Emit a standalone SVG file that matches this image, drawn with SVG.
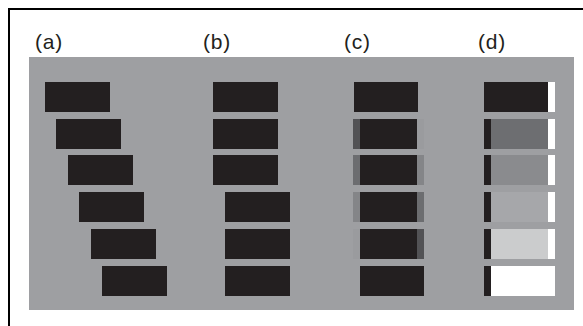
<svg xmlns="http://www.w3.org/2000/svg" width="583" height="326" viewBox="0 0 583 326">
<style>
.lbl{font-family:"Liberation Sans",Arial,sans-serif;font-size:21px;letter-spacing:0.8px;fill:#231f20}
.k{fill:#231f20}
.w{fill:#ffffff}
</style>
<rect x="0" y="0" width="583" height="326" fill="#ffffff"/>
<path d="M9,340 V9 H600" fill="none" stroke="#000000" stroke-width="2"/>
<rect id="panel" x="29" y="57" width="545" height="253" fill="#9e9fa2"/>
<g id="labels">
<text class="lbl" x="35" y="49">(a)</text>
<text class="lbl" x="203" y="49">(b)</text>
<text class="lbl" x="344" y="49">(c)</text>
<text class="lbl" x="478" y="49">(d)</text>
</g>
<g id="col-a">
<rect class="k" x="45" y="82" width="65" height="30"/>
<rect class="k" x="56" y="119" width="65" height="30"/>
<rect class="k" x="68" y="155" width="65" height="30"/>
<rect class="k" x="79" y="192" width="65" height="30"/>
<rect class="k" x="91" y="229" width="65" height="30"/>
<rect class="k" x="102" y="266" width="65" height="30"/>
</g>
<g id="col-b">
<rect class="k" x="213" y="82" width="65" height="30"/>
<rect class="k" x="213" y="119" width="65" height="30"/>
<rect class="k" x="213" y="155" width="65" height="30"/>
<rect class="k" x="225" y="192" width="65" height="30"/>
<rect class="k" x="225" y="229" width="65" height="30"/>
<rect class="k" x="225" y="266" width="65" height="30"/>
</g>
<g id="col-c">
<rect class="k" x="354" y="82" width="64" height="30"/>
<rect x="353" y="119" width="7" height="30" fill="#525255"/>
<rect class="k" x="360" y="119" width="57" height="30"/>
<rect x="417" y="119" width="7" height="30" fill="#9a9b9e"/>
<rect x="353" y="155" width="7" height="30" fill="#6c6d70"/>
<rect class="k" x="360" y="155" width="57" height="30"/>
<rect x="417" y="155" width="7" height="30" fill="#848588"/>
<rect x="353" y="192" width="7" height="30" fill="#848588"/>
<rect class="k" x="360" y="192" width="57" height="30"/>
<rect x="417" y="192" width="7" height="30" fill="#6c6d70"/>
<rect x="353" y="229" width="7" height="30" fill="#9a9b9e"/>
<rect class="k" x="360" y="229" width="57" height="30"/>
<rect x="417" y="229" width="7" height="30" fill="#525255"/>
<rect class="k" x="360" y="266" width="64" height="30"/>
</g>
<g id="col-d">
<rect class="k" x="484" y="82" width="64" height="30"/>
<rect class="w" x="548" y="82" width="7" height="30"/>
<rect class="k" x="484" y="119" width="7" height="30"/>
<rect x="491" y="119" width="57" height="30" fill="#6d6e71"/>
<rect class="w" x="548" y="119" width="7" height="30"/>
<rect class="k" x="484" y="155" width="7" height="30"/>
<rect x="491" y="155" width="57" height="30" fill="#8a8b8e"/>
<rect class="w" x="548" y="155" width="7" height="30"/>
<rect class="k" x="484" y="192" width="7" height="30"/>
<rect x="491" y="192" width="57" height="30" fill="#a6a7aa"/>
<rect class="w" x="548" y="192" width="7" height="30"/>
<rect class="k" x="484" y="229" width="7" height="30"/>
<rect x="491" y="229" width="57" height="30" fill="#cbcccd"/>
<rect class="w" x="548" y="229" width="7" height="30"/>
<rect class="k" x="484" y="266" width="7" height="30"/>
<rect class="w" x="491" y="266" width="64" height="30"/>
</g>
</svg>
